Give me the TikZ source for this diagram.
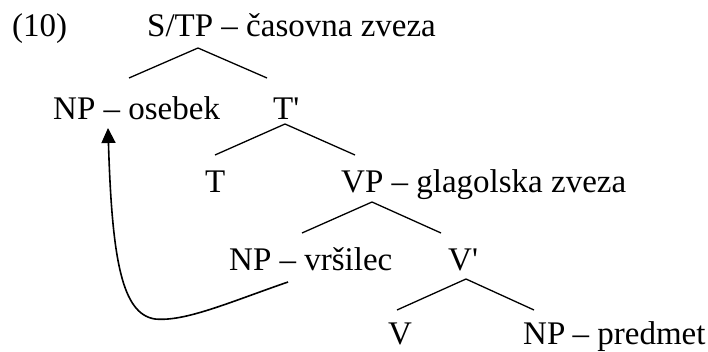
\documentclass[tikz,border=0pt]{standalone}
\usepackage{fontspec}
\setmainfont{Liberation Serif}
\usetikzlibrary{arrows.meta}
\begin{document}
\begin{tikzpicture}[x=1pt,y=-1pt,
  lbl/.style={anchor=base west,inner sep=0pt,font=\fontsize{33}{40}\selectfont},
  branch/.style={line width=1.3pt},
  mv/.style={line width=1.6pt,-{Triangle[length=15pt,width=14pt]}}]
\useasboundingbox (0,0) rectangle (708,352);
\node[lbl] (ex) at (12,37) {(10)};
\node[lbl] (stp) at (147,37) {S/TP – časovna zveza};
\node[lbl] (npo) at (53,120) {NP – osebek};
\node[lbl] (tb) at (273,120) {T\textquotesingle};
\node[lbl] (t) at (205,193) {T};
\node[lbl] (vp) at (341,193) {VP – glagolska zveza};
\node[lbl] (npv) at (229,270) {NP – vršilec};
\node[lbl] (vb) at (448,270) {V\textquotesingle};
\node[lbl] (v) at (388,344) {V};
\node[lbl] (npp) at (523,344) {NP\hspace{-1pt} – predmet};
\coordinate (stpA) at (198,48);
\coordinate (npoT) at (129,78);
\coordinate (tbT) at (267,78);
\coordinate (tbA) at (285,124);
\coordinate (tT) at (215,155);
\coordinate (vpT) at (355,155);
\coordinate (vpA) at (372,202);
\coordinate (npvT) at (302,233);
\coordinate (vbT) at (441,233);
\coordinate (vbA) at (466,279);
\coordinate (vT) at (397,310);
\coordinate (nppT) at (534,310);
\coordinate (npvB) at (288,282);
\coordinate (npoB) at (108,128);
\draw[branch] (npoT) -- (stpA) -- (tbT);
\draw[branch] (tT) -- (tbA) -- (vpT);
\draw[branch] (npvT) -- (vpA) -- (vbT);
\draw[branch] (vT) -- (vbA) -- (nppT);
\draw[mv] (npvB) .. controls (230,302) and (185,322) .. (155,319)
  .. controls (122,314) and (112,260) .. (npoB);
\end{tikzpicture}
\end{document}
